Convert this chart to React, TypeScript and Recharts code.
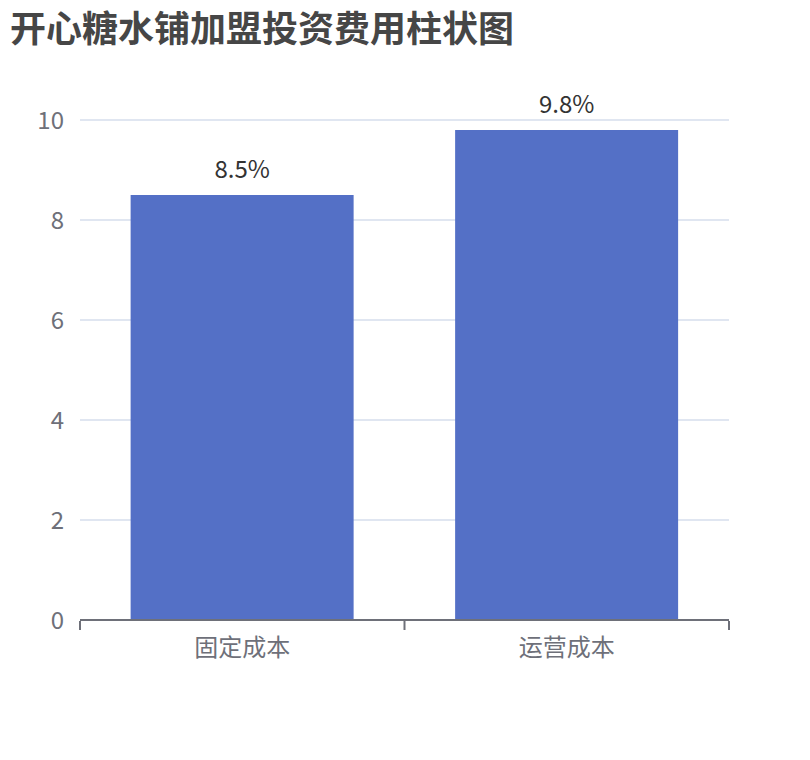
import { Bar, BarChart, CartesianGrid, LabelList, XAxis, YAxis } from "recharts";

const categories = ["固定成本", "运营成本"];
const costValues = [8.5, 9.8];
const yTicks = [0, 2, 4, 6, 8, 10];
const boundaryTicks = [0, 1, 2];

const data = categories.map((name, i) => ({ name, idx: i + 0.5, value: costValues[i] }));

const axisColor = "#6E7079";
const fontFamily = '"Noto Sans CJK SC", "Noto Sans", sans-serif';

export default function App() {
    return (
        <div style={{ position: "absolute", left: 0, top: 0, width: 810, height: 760, background: "#fff", fontFamily }}>
            <div style={{
                position: "absolute", left: 10, top: 4, fontSize: 36, fontWeight: "bold",
                color: "#464646", lineHeight: "44px", whiteSpace: "nowrap"
            }}>
                开心糖水铺加盟投资费用柱状图
            </div>
            <BarChart
                width={810}
                height={760}
                data={data}
                barCategoryGap="15.6%"
                margin={{ top: 120, right: 81, bottom: 138, left: 0 }}>
                <CartesianGrid vertical={false} stroke="#E0E6F1" strokeWidth={2} />
                <XAxis
                    dataKey="name"
                    height={1}
                    axisLine={{ stroke: axisColor, strokeWidth: 2 }}
                    tickLine={false}
                    tickSize={10}
                    tickMargin={9}
                    tick={{ fill: axisColor, fontSize: 24, fontFamily }} />
                {/* boundary tick marks between categories */}
                <XAxis
                    xAxisId="bounds"
                    type="number"
                    dataKey="idx"
                    domain={[0, 2]}
                    ticks={boundaryTicks}
                    interval={0}
                    height={1}
                    axisLine={false}
                    tick={{ fill: "none", fontSize: 1 }}
                    tickSize={9}
                    tickLine={{ stroke: axisColor, strokeWidth: 2 }} />
                <YAxis
                    width={80}
                    domain={[0, 10]}
                    ticks={yTicks}
                    axisLine={false}
                    tickLine={false}
                    tickSize={8}
                    tickMargin={8}
                    tick={{ fill: axisColor, fontSize: 24, fontFamily }} />
                <Bar dataKey="value" fill="#5470C6" isAnimationActive={false}>
                    <LabelList
                        dataKey="value"
                        position="top"
                        offset={17}
                        formatter={(v: number) => `${v}%`}
                        style={{ fill: "#333", fontSize: 24, fontFamily }} />
                </Bar>
            </BarChart>
        </div>
    );
}
